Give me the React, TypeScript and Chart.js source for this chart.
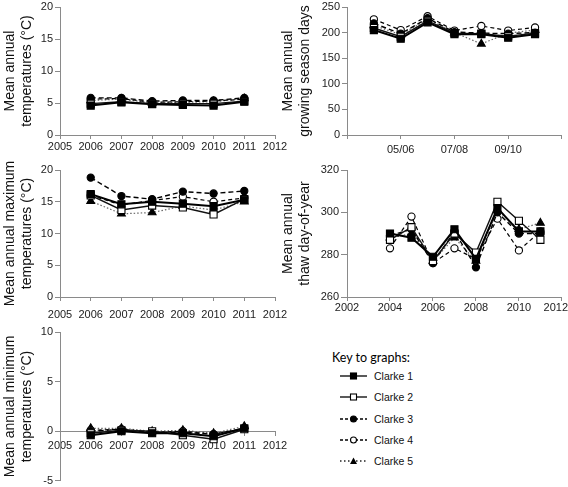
import React, { useEffect, useRef } from 'react';
import { Chart, registerables } from 'chart.js';

Chart.register(...registerables);

// ---------- categories ----------
const years = [2006, 2007, 2008, 2009, 2010, 2011];
const thawYears = [2004, 2005, 2006, 2007, 2008, 2009, 2010, 2011];
const seasons = ['04/05', '05/06', '06/07', '07/08', '08/09', '09/10', '10/11'];
const seriesNames = ['Clarke 1', 'Clarke 2', 'Clarke 3', 'Clarke 4', 'Clarke 5'];

// ---------- Mean annual temperatures (°C) ----------
const meanTempC1 = [4.6, 5.1, 4.8, 4.7, 4.6, 5.2];
const meanTempC2 = [4.9, 5.2, 4.9, 4.9, 4.9, 5.3];
const meanTempC3 = [5.8, 5.8, 5.3, 5.4, 5.4, 5.8];
const meanTempC4 = [5.6, 5.7, 5.1, 5.2, 5.3, 5.6];
const meanTempC5 = [5.4, 5.6, 5.0, 5.1, 5.2, 5.7];

// ---------- Mean annual growing season days ----------
const growC1 = [205, 188, 220, 197, 197, 190, 197];
const growC2 = [209, 192, 223, 199, 198, 193, 199];
const growC3 = [218, 198, 228, 201, 199, 198, 200];
const growC4 = [226, 205, 232, 204, 213, 204, 210];
const growC5 = [214, 196, 226, 200, 178, 199, 205];

// ---------- Mean annual maximum temperatures (°C) ----------
const maxTempC1 = [16.2, 14.6, 15.0, 14.7, 14.3, 15.3];
const maxTempC2 = [16.0, 13.7, 14.4, 14.1, 13.0, 15.4];
const maxTempC3 = [18.8, 15.9, 15.4, 16.6, 16.3, 16.7];
const maxTempC4 = [16.0, 14.5, 15.2, 15.8, 15.0, 15.6];
const maxTempC5 = [15.1, 13.1, 13.3, 14.3, 13.7, 15.0];

// ---------- Mean annual thaw day-of-year ----------
const thawC1 = [290, 288, 279, 292, 278, 302, 291, 291];
const thawC2 = [287, 293, 277, 290, 281, 305, 296, 287];
const thawC3 = [289, 292, 276, 291, 274, 300, 290, 290];
const thawC4 = [283, 298, 276, 283, 278, 297, 282, 291];
const thawC5 = [288, 290, 277, 288, 277, 301, 292, 295];

// ---------- Mean annual minimum temperatures (°C) ----------
const minTempC1 = [-0.4, 0.0, -0.2, -0.2, -0.5, 0.3];
const minTempC2 = [-0.2, 0.1, 0.0, -0.4, -0.8, 0.2];
const minTempC3 = [0.0, 0.2, -0.1, -0.1, -0.3, 0.3];
const minTempC4 = [0.1, 0.2, -0.1, 0.0, -0.3, 0.3];
const minTempC5 = [0.3, 0.3, 0.0, 0.1, -0.2, 0.5];

// ---------- styles ----------
const seriesStyles = [
  { color: '#000', width: 2, dash: [] as number[], point: 'rect', radius: 5, fill: '#000' },
  { color: '#111', width: 1.4, dash: [] as number[], point: 'rect', radius: 5, fill: '#fff' },
  { color: '#000', width: 1.4, dash: [5, 3], point: 'circle', radius: 3.6, fill: '#000' },
  { color: '#000', width: 1.2, dash: [4, 3], point: 'circle', radius: 3.6, fill: '#fff' },
  { color: '#666', width: 1.2, dash: [1.5, 2], point: 'triangle', radius: 4.5, fill: '#000' },
];

const FONT = '"Liberation Sans", Arial, sans-serif';
const AXIS = '#8a8a8a';
const TEXT = '#222';

function makeDatasets(xs: number[], series: number[][]) {
  return series.map((vals, i) => {
    const s = seriesStyles[i];
    return {
      label: seriesNames[i],
      data: xs.map((x, j) => ({ x, y: vals[j] })),
      borderColor: s.color,
      borderWidth: s.width,
      borderDash: s.dash,
      pointStyle: s.point,
      pointRadius: s.radius,
      pointBackgroundColor: s.fill,
      pointBorderColor: '#000',
      pointBorderWidth: 1.1,
      tension: 0,
      fill: false,
    };
  });
}

// keeps the last x tick label inside the canvas (as in the original figure)
const keepLastLabelInside = {
  id: 'keepLastLabelInside',
  beforeDraw(chart: any) {
    const scale = chart.scales.x;
    if (!scale || !scale.getLabelItems) return;
    const items = scale.getLabelItems();
    const last = items[items.length - 1];
    if (!last || !last.label) return;
    const ctx = chart.ctx;
    ctx.save();
    ctx.font = last.font.string;
    const w = ctx.measureText(String(last.label)).width;
    ctx.restore();
    const maxCenter = chart.width - w / 2;
    if (last.options.translation[0] > maxCenter) last.options.translation[0] = maxCenter;
  },
};

type PanelOpts = {
  xs: number[];
  series: number[][];
  xMin: number; xMax: number; xStep: number;
  xLabel: (v: number) => string;
  yMin: number; yMax: number; yStep: number;
  title: string[];
  yWidth: number;
  xHeight: number;
  xPosZero?: boolean;
  xTickPad: number;
  yTickLen: number;
  padding: { top: number; right: number; bottom: number; left: number };
};

function buildConfig(o: PanelOpts): any {
  return {
    type: 'line',
    data: { datasets: makeDatasets(o.xs, o.series) },
    plugins: [keepLastLabelInside],
    options: {
      animation: false,
      responsive: false,
      devicePixelRatio: 1,
      layout: { padding: o.padding },
      plugins: { legend: { display: false }, tooltip: { enabled: false } },
      scales: {
        x: {
          type: 'linear',
          axis: 'x',
          position: o.xPosZero ? { y: 0 } : 'bottom',
          min: o.xMin, max: o.xMax,
          ticks: {
            stepSize: o.xStep,
            autoSkip: false,
            maxRotation: 0,
            padding: o.xTickPad,
            color: TEXT,
            font: { family: FONT, size: 11 },
            callback: (v: any) => o.xLabel(Number(v)),
          },
          grid: { display: true, drawOnChartArea: false, drawTicks: true, tickLength: 4, tickColor: AXIS, color: AXIS },
          border: { display: true, color: AXIS, width: 1 },
          afterFit: (s: any) => {
            if (!o.xPosZero) s.height = o.xHeight;
            s.paddingLeft = 0; s.paddingRight = 0; s.paddingTop = 0; s.paddingBottom = 0;
          },
        },
        y: {
          type: 'linear',
          min: o.yMin, max: o.yMax,
          ticks: {
            stepSize: o.yStep,
            padding: 2,
            color: TEXT,
            font: { family: FONT, size: 11 },
          },
          grid: { display: true, drawOnChartArea: false, drawTicks: true, tickLength: o.yTickLen, tickColor: AXIS, color: AXIS },
          border: { display: true, color: AXIS, width: 1 },
          title: {
            display: true,
            text: o.title,
            color: '#111',
            font: { family: FONT, size: 14, lineHeight: 1.2 },
            padding: { top: 1.5, bottom: 0 },
          },
          afterFit: (s: any) => {
            s.width = o.yWidth;
            s.paddingTop = 0; s.paddingBottom = 0; s.paddingLeft = 0; s.paddingRight = 0;
          },
        },
      },
    },
  };
}

function Panel(props: { left: number; top: number; width: number; height: number; opts: PanelOpts }) {
  const ref = useRef<HTMLCanvasElement>(null);
  useEffect(() => {
    const chart = new Chart(ref.current as HTMLCanvasElement, buildConfig(props.opts));
    return () => chart.destroy();
  }, []);
  return (
    <canvas
      ref={ref}
      width={props.width}
      height={props.height}
      style={{ position: 'absolute', left: props.left, top: props.top, width: props.width, height: props.height }}
    />
  );
}

const yearLabel = (v: number) => String(v);
const seasonLabel = (v: number) => seasons[v - 1] ?? '';
const seasonXs = seasons.map((_, i) => i + 1);

function LegendMarker({ i }: { i: number }) {
  const s = seriesStyles[i];
  const dash = i < 2 ? undefined : i < 4 ? '3,2' : '1.5,2.5';
  return (
    <svg width={28} height={12} style={{ display: 'block' }}>
      <line x1={0} y1={6} x2={27} y2={6} stroke={i === 4 ? '#222' : '#000'} strokeWidth={1.3} strokeDasharray={dash} />
      {s.point === 'rect' && <rect x={10.5} y={3} width={6} height={6} fill={s.fill} stroke="#000" strokeWidth={1.1} />}
      {s.point === 'circle' && <circle cx={13.5} cy={6} r={3} fill={s.fill} stroke="#000" strokeWidth={1.1} />}
      {s.point === 'triangle' && <polygon points="13.5,2.5 17,9 10,9" fill="#000" />}
    </svg>
  );
}

export default function App() {
  return (
    <div style={{ position: 'fixed', left: 0, top: 0, width: 568, height: 487, background: '#fff', overflow: 'hidden' }}>
      <Panel left={0} top={0} width={290} height={160} opts={{
        xs: years,
        series: [meanTempC1, meanTempC2, meanTempC3, meanTempC4, meanTempC5],
        xMin: 2005, xMax: 2012, xStep: 1, xLabel: yearLabel,
        yMin: 0, yMax: 20, yStep: 5,
        title: ['Mean annual', 'temperatures (°C)'],
        yWidth: 60, xHeight: 25, xTickPad: 1, yTickLen: 5,
        padding: { top: 7, right: 15, bottom: 0, left: 0 },
      }} />
      <Panel left={278} top={0} width={290} height={160} opts={{
        xs: seasonXs,
        series: [growC1, growC2, growC3, growC4, growC5],
        xMin: 0, xMax: 8, xStep: 2, xLabel: seasonLabel,
        yMin: 0, yMax: 250, yStep: 50,
        title: ['Mean annual', 'growing season days'],
        yWidth: 69, xHeight: 25, xTickPad: 4, yTickLen: 5,
        padding: { top: 7, right: 5, bottom: 0, left: 0 },
      }} />
      <Panel left={0} top={160} width={290} height={160} opts={{
        xs: years,
        series: [maxTempC1, maxTempC2, maxTempC3, maxTempC4, maxTempC5],
        xMin: 2005, xMax: 2012, xStep: 1, xLabel: yearLabel,
        yMin: 0, yMax: 20, yStep: 5,
        title: ['Mean annual maximum', 'temperatures (°C)'],
        yWidth: 60, xHeight: 23, xTickPad: 7, yTickLen: 5,
        padding: { top: 10, right: 15, bottom: 0, left: 0 },
      }} />
      <Panel left={278} top={160} width={290} height={160} opts={{
        xs: thawYears,
        series: [thawC1, thawC2, thawC3, thawC4, thawC5],
        xMin: 2002, xMax: 2012, xStep: 2, xLabel: yearLabel,
        yMin: 260, yMax: 320, yStep: 20,
        title: ['Mean annual', 'thaw day-of-year'],
        yWidth: 69, xHeight: 23, xTickPad: 0, yTickLen: 6,
        padding: { top: 10, right: 4, bottom: 0, left: 0 },
      }} />
      <Panel left={0} top={320} width={290} height={167} opts={{
        xs: years,
        series: [minTempC1, minTempC2, minTempC3, minTempC4, minTempC5],
        xMin: 2005, xMax: 2012, xStep: 1, xLabel: yearLabel,
        yMin: -5, yMax: 10, yStep: 5,
        title: ['Mean annual minimum', 'temperatures (°C)'],
        yWidth: 60, xHeight: 0, xPosZero: true, xTickPad: 4, yTickLen: 5,
        padding: { top: 12, right: 15, bottom: 5, left: 0 },
      }} />
      <div style={{ position: 'absolute', left: 332, top: 350, font: '12.5px Lato, "Open Sans", sans-serif', color: '#000', whiteSpace: 'nowrap' }}>
        Key to graphs:
      </div>
      {seriesNames.map((name, i) => (
        <div key={name} style={{ position: 'absolute', left: 340, top: 369 + i * 21.3, height: 14, display: 'flex', alignItems: 'center', whiteSpace: 'nowrap' }}>
          <LegendMarker i={i} />
          <span style={{ marginLeft: 6, font: `10.5px ${FONT}`, color: '#111' }}>{name}</span>
        </div>
      ))}
    </div>
  );
}
